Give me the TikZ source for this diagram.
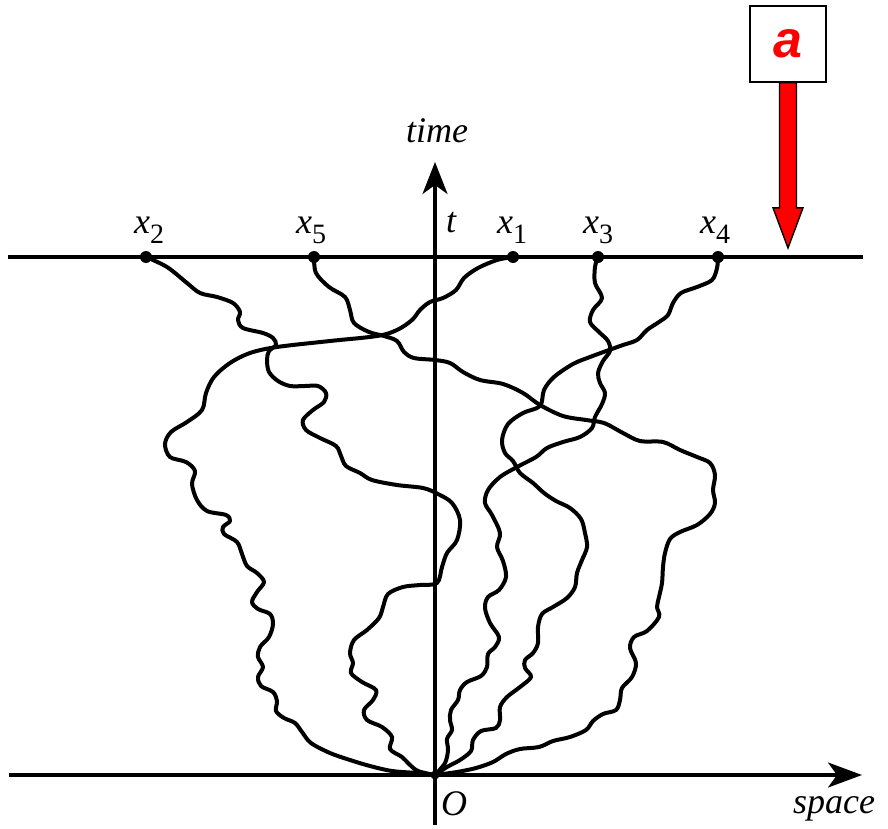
\documentclass[tikz,border=0pt]{standalone}
\usepackage{fontspec}
\setmainfont{Liberation Serif}
\setsansfont{Liberation Sans}
\usetikzlibrary{arrows.meta,calc}
\newcommand\subnum[1]{\raisebox{-10pt}{\fontsize{28}{28}\selectfont\upshape #1}}
\tikzset{
  walk/.style={line width=4pt, line join=round, line cap=round},
  axisline/.style={line width=3.2pt},
  dot/.style={circle, fill=black, inner sep=0pt, minimum size=12pt},
  lbl/.style={anchor=base west, inner sep=0pt, font=\fontsize{36}{36}\selectfont\itshape},
}
\begin{document}
\begin{tikzpicture}[x=1pt,y=-1pt]
\useasboundingbox (0,0) rectangle (888,829);
\fill[white] (0,0) rectangle (888,829);

% axes
\coordinate (O) at (435,775);
\coordinate (Vbot) at (435,825);
\coordinate (Vtop) at (435,162);
\coordinate (Hl) at (9,775);
\coordinate (Hr) at (862,775);
\coordinate (Tl) at (8,257);
\coordinate (Tr) at (863,257);
\draw[axisline] (Tl) -- (Tr);
\draw[axisline,-{Stealth[length=32pt,width=25pt,inset=9pt]}] (Vbot) -- (Vtop);
\draw[axisline,-{Stealth[length=34pt,width=25pt,inset=9pt]}] (Hl) -- (Hr);

% end points
\coordinate (X2) at (146,257);
\coordinate (X5) at (314,257);
\coordinate (X1) at (513,257);
\coordinate (X3) at (598,257);
\coordinate (X4) at (718,257);

% walks
\draw[walk] plot[smooth,tension=0.55] coordinates {(X2) (167,267) (187,283) (200,293) (217,297) (233,303) (240,312) (238,320) (243,328) (263,333) (273,338) (276,345) (269,351) (267,360) (269,372) (278,381) (290,386) (305,386) (318,386) (326,393) (324,402) (313,410) (303,420) (306,430) (320,438) (336,446) (341,456) (346,466) (360,473) (372,480) (397,485) (423,488) (438,494) (452,503) (460,520) (457,540) (447,553) (442,567) (437,583) (420,585) (403,587) (388,594) (383,607) (379,618) (367,630) (354,640) (350,653) (353,663) (351,673) (362,682) (376,690) (373,700) (364,710) (367,720) (382,727) (392,737) (390,749) (402,757) (409,764) (418,771) (O)};

\draw[walk] plot[smooth,tension=0.55] coordinates {(X5) (316,273) (329,287) (345,297) (350,310) (354,323) (369,332) (384,336) (397,341) (404,352) (414,358) (435,360) (450,363) (463,372) (480,380) (503,384) (523,393) (540,405) (563,416) (586,420) (604,423) (623,433) (640,441) (663,442) (680,450) (697,457) (710,463) (715,475) (713,490) (715,503) (710,514) (697,525) (680,532) (670,539) (665,553) (663,567) (662,583) (659,597) (657,607) (659,617) (647,631) (634,637) (630,648) (636,663) (632,677) (622,688) (620,700) (616,710) (603,714) (593,721) (586,730) (570,737) (553,741) (539,747) (520,749) (506,754) (493,762) (476,768) (457,772) (O)};

\draw[walk] plot[smooth,tension=0.55] coordinates {(X1) (497,260) (478,268) (464,278) (456,290) (443,298) (430,302) (420,310) (412,320) (397,330) (377,336) (330,341) (277,347) (250,353) (230,363) (214,377) (206,393) (202,410) (187,422) (171,432) (165,444) (170,457) (186,462) (195,471) (192,484) (197,500) (207,511) (226,515) (230,521) (223,527) (224,534) (237,542) (242,554) (247,566) (257,573) (264,582) (257,592) (252,602) (258,609) (270,614) (273,624) (269,637) (260,647) (258,657) (263,667) (258,677) (261,686) (273,692) (277,701) (276,711) (284,718) (295,723) (302,732) (311,743) (330,753) (350,760) (370,766) (392,771) (417,773) (O)};

\draw[walk] plot[smooth,tension=0.55] coordinates {(X3) (595,267) (595,283) (602,298) (593,310) (590,322) (599,332) (608,341) (610,351) (603,361) (598,373) (600,383) (605,393) (602,404) (595,417) (592,428) (580,437) (563,442) (547,448) (536,457) (517,467) (500,477) (488,490) (485,503) (492,515) (500,533) (497,547) (503,561) (506,577) (499,590) (488,597) (485,608) (490,623) (499,637) (495,647) (488,654) (487,667) (481,676) (467,682) (460,690) (458,700) (451,710) (450,720) (452,730) (447,739) (448,750) (445,763) (O)};

\draw[walk] plot[smooth,tension=0.55] coordinates {(X4) (717,268) (712,280) (697,287) (681,293) (673,303) (668,315) (659,322) (647,330) (637,340) (623,345) (609,350) (590,357) (573,364) (554,377) (544,390) (540,406) (523,413) (508,424) (502,440) (505,453) (513,461) (520,473) (533,483) (544,493) (556,501) (570,508) (581,519) (585,533) (587,547) (582,560) (577,573) (575,587) (567,598) (553,607) (542,614) (538,627) (538,643) (533,653) (525,660) (525,668) (531,677) (520,687) (507,697) (500,707) (500,720) (496,728) (481,731) (473,740) (471,751) (460,760) (447,767) (O)};

% dots
\node[dot] (D2) at (X2) {};
\node[dot] (D5) at (X5) {};
\node[dot] (D1) at (X1) {};
\node[dot] (D3) at (X3) {};
\node[dot] (D4) at (X4) {};
\node[circle, fill=black, inner sep=0pt, minimum size=9pt] (DO) at (O) {};

% labels
\node[lbl] (L2) at (134,233) {x\subnum{2}};
\node[lbl] (L5) at (296,233) {x\subnum{5}};
\node[lbl] (L1) at (497,233) {x\subnum{1}};
\node[lbl] (L3) at (583,233) {x\subnum{3}};
\node[lbl] (L4) at (700,233) {x\subnum{4}};
\node[lbl] (Lt) at (446,232) {t};
\node[lbl] (Ltime) at (406,143) {time};
\node[lbl] (LO) at (441,815) {O};
\node[lbl] (Lspace) at (793,813) {space};

% red marker
\node[draw=black, fill=white, line width=1.6pt, minimum width=76pt, minimum height=76pt, inner sep=0pt,
      font=\sffamily\bfseries\itshape\fontsize{52}{52}\selectfont, text=red] (A) at (788,44) {\raisebox{-8pt}{a}};
\coordinate (Atip) at (788,248);
\filldraw[fill=red, draw=black, line width=1.4pt, line join=miter]
  ($(A.south)+(-8.5,0)$) -- ($(A.south)+(8.5,0)$) -- ($(A.south)+(8.5,125)$) -- ($(A.south)+(15,125)$)
  -- (Atip) -- ($(A.south)+(-15,125)$) -- ($(A.south)+(-8.5,125)$) -- cycle;
\end{tikzpicture}
\end{document}
